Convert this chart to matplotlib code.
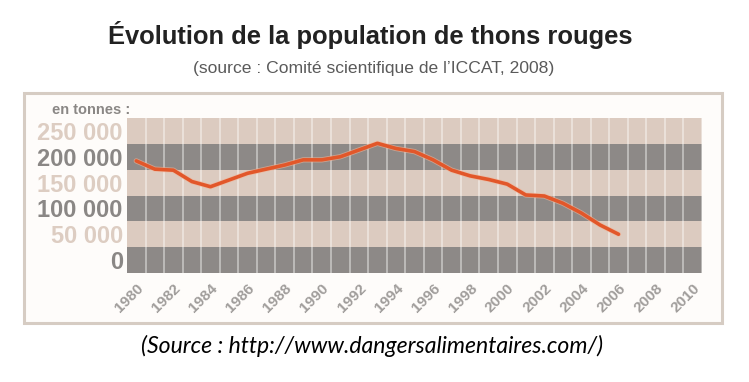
import matplotlib
matplotlib.use("Agg")
import matplotlib.pyplot as plt
import matplotlib.patheffects as pe
from matplotlib.patches import Rectangle

# Data (tonnes)
years = [1980, 1981, 1982, 1983, 1984, 1985, 1986, 1987, 1988, 1989, 1990,
         1991, 1992, 1993, 1994, 1995, 1996, 1997, 1998, 1999, 2000,
         2001, 2002, 2003, 2004, 2005, 2006]
population = [192000, 176000, 174000, 152000, 142000, 155000, 168000, 176000,
              184000, 194000, 194000, 200000, 213000, 226000, 216000, 210000,
              194000, 174000, 163000, 156000, 147000, 126000, 124000, 110000,
              91000, 68000, 50000]

band_values = [0, 50000, 100000, 150000, 200000, 250000]
band_labels = ["0", "50 000", "100 000", "150 000", "200 000", "250 000"]
year_ticks = list(range(1980, 2011, 2))

light = "#dccbc0"
dark = "#8d8987"
light_txt = "#ddcdc2"
dark_txt = "#8a8785"

W, H = 749, 382
fig = plt.figure(figsize=(W / 100, H / 100), dpi=100)
fig.patch.set_facecolor("white")

# outer frame
fig.patches.append(Rectangle((24 / W, 1 - 323 / H), (722 - 24) / W, (323 - 93) / H,
                             transform=fig.transFigure, facecolor="#fefcfa",
                             edgecolor="#d6ccc3", lw=2.2, zorder=-5))

ax = fig.add_axes([127 / W, 1 - 273 / H, (702 - 127) / W, (273 - 118) / H])
ax.set_xlim(1979.5, 2010.5)
ax.set_ylim(-25000, 275000)
ax.patch.set_alpha(0)

# horizontal bands, alternating dark / light
for i, v in enumerate(band_values):
    ax.axhspan(v - 25000, v + 25000, color=dark if i % 2 == 0 else light, lw=0, zorder=0)

# white column separators
for y in range(1980, 2011):
    ax.axvline(y + 0.5, color="white", alpha=0.45, lw=1.3, zorder=1)

ax.plot(years, population, color="#e2572a", lw=2.6, solid_capstyle="round", zorder=3,
        path_effects=[pe.Stroke(linewidth=3.8, foreground="#f2b69a", alpha=0.6), pe.Normal()])

for s in ax.spines.values():
    s.set_visible(False)
ax.tick_params(length=0)

ax.set_yticks(band_values)
ax.set_yticklabels(band_labels, fontsize=17, fontweight="bold", family="Liberation Sans")
for i, lab in enumerate(ax.get_yticklabels()):
    lab.set_color(dark_txt if i % 2 == 0 else light_txt)
ax.tick_params(axis="y", pad=3)

ax.set_xticks(year_ticks)
ax.set_xticklabels([str(y) for y in year_ticks], rotation=45, ha="right", va="top",
                   rotation_mode="anchor", fontsize=11, fontweight="bold",
                   family="Liberation Sans", color="#a09d9b")
ax.tick_params(axis="x", pad=6)

fig.text(52 / W, 1 - 110 / H, "en tonnes :", fontsize=10.5, fontweight="bold",
         family="Liberation Sans", color="#8a8785", va="center", ha="left")

fig.text(370 / W, 1 - 35 / H, "Évolution de la population de thons rouges",
         fontsize=18.4, fontweight="bold", family="Liberation Sans", color="#222222",
         ha="center", va="center")
fig.text(374 / W, 1 - 68 / H, "(source : Comité scientifique de l\u2019ICCAT, 2008)",
         fontsize=12.6, family="Liberation Sans", color="#5a5a5a", ha="center", va="center")

fig.text(372 / W, 1 - 346 / H, "(Source : http://www.dangersalimentaires.com/)",
         fontsize=16.6, style="italic", family="Lato", color="black", ha="center", va="center")

fig.savefig("out.png", dpi=100)
